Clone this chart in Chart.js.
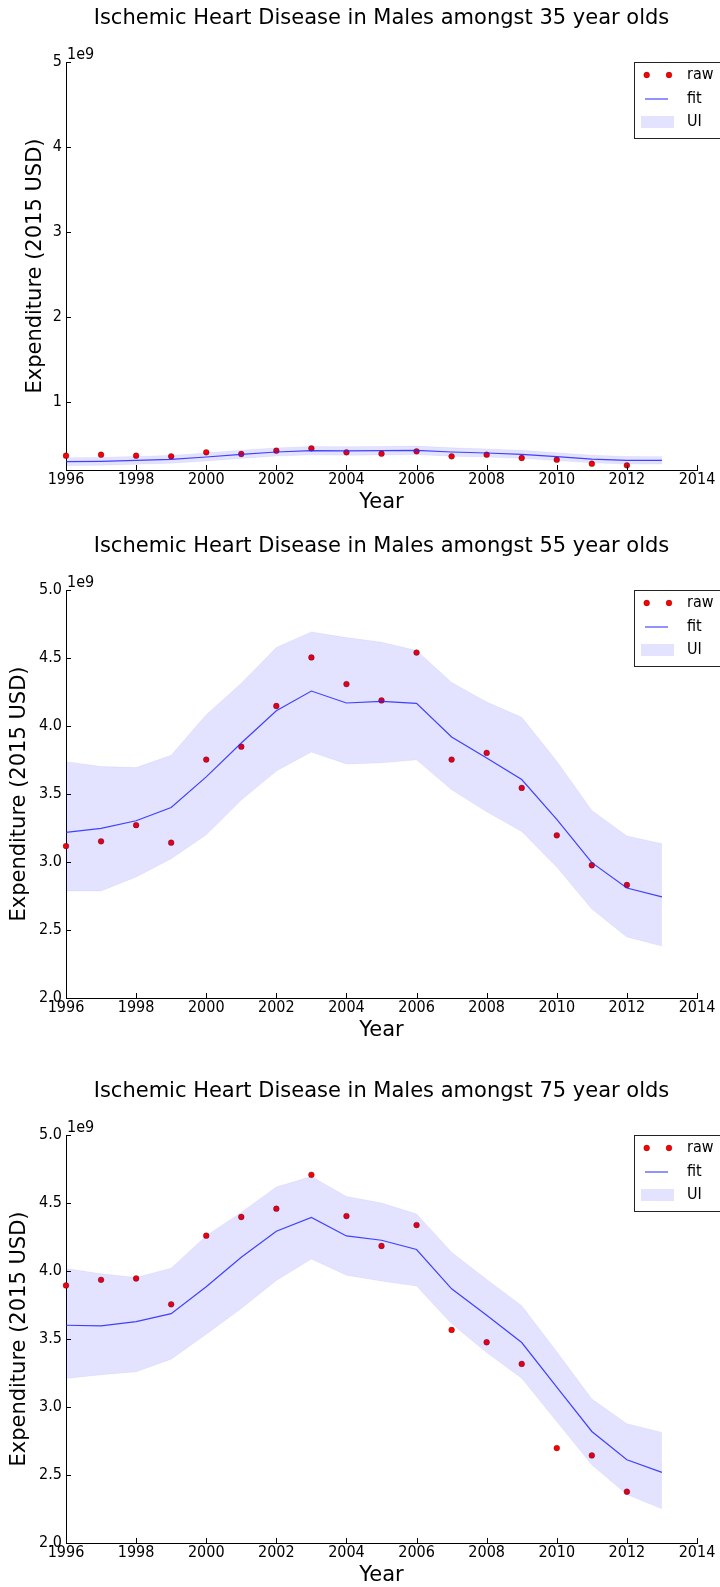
<!DOCTYPE html>
<html>
<head>
<meta charset="utf-8">
<script src="https://cdn.jsdelivr.net/npm/chart.js"></script>
<style>
  html, body { margin: 0; padding: 0; background: #fff; overflow: hidden; }
  body { width: 720px; height: 1587px; position: relative; }
  .panel { position: absolute; left: 0; width: 720px; height: 515px; }
</style>
</head>
<body>
<div class="panel" style="top:0px"><canvas id="chart35"></canvas></div>
<div class="panel" style="top:528px"><canvas id="chart55"></canvas></div>
<div class="panel" style="top:1073px"><canvas id="chart75"></canvas></div>
<script>
// values in units of 1e9 (2015 USD)
const years = [1996, 1997, 1998, 1999, 2000, 2001, 2002, 2003, 2004, 2005, 2006, 2007, 2008, 2009, 2010, 2011, 2012, 2013];
const rawYears = years.slice(0, 17);
const xTicks = [1996, 1998, 2000, 2002, 2004, 2006, 2008, 2010, 2012, 2014];

const raw35 = [0.368, 0.380, 0.368, 0.361, 0.408, 0.388, 0.427, 0.455, 0.408, 0.392, 0.420, 0.361, 0.380, 0.341, 0.321, 0.274, 0.255];
const fit35 = [0.298, 0.302, 0.314, 0.326, 0.353, 0.384, 0.412, 0.427, 0.424, 0.427, 0.431, 0.412, 0.400, 0.384, 0.357, 0.329, 0.314, 0.314];
const upper35 = [0.345, 0.348, 0.360, 0.372, 0.400, 0.432, 0.460, 0.476, 0.474, 0.477, 0.481, 0.461, 0.448, 0.431, 0.403, 0.374, 0.358, 0.357];
const lower35 = [0.252, 0.256, 0.268, 0.280, 0.306, 0.336, 0.364, 0.378, 0.374, 0.377, 0.381, 0.363, 0.352, 0.337, 0.311, 0.284, 0.270, 0.271];
const yTicks35 = [1, 2, 3, 4, 5];

const raw55 = [3.117, 3.152, 3.271, 3.142, 3.753, 3.848, 4.147, 4.504, 4.308, 4.188, 4.540, 3.753, 3.802, 3.545, 3.196, 2.976, 2.831];
const fit55 = [3.218, 3.247, 3.303, 3.401, 3.626, 3.875, 4.112, 4.257, 4.169, 4.181, 4.166, 3.919, 3.765, 3.606, 3.313, 2.995, 2.809, 2.743];
const upper55 = [3.738, 3.702, 3.694, 3.785, 4.083, 4.315, 4.577, 4.692, 4.650, 4.616, 4.555, 4.320, 4.176, 4.064, 3.741, 3.379, 3.191, 3.134];
const lower55 = [2.787, 2.787, 2.890, 3.024, 3.200, 3.455, 3.670, 3.809, 3.721, 3.729, 3.751, 3.531, 3.369, 3.225, 2.963, 2.654, 2.449, 2.382];

const raw75 = [3.894, 3.935, 3.945, 3.755, 4.260, 4.397, 4.458, 4.707, 4.404, 4.184, 4.338, 3.567, 3.476, 3.317, 2.698, 2.644, 2.377];
const fit75 = [3.601, 3.596, 3.628, 3.686, 3.884, 4.101, 4.292, 4.394, 4.258, 4.226, 4.158, 3.869, 3.674, 3.474, 3.146, 2.820, 2.612, 2.519];
const upper75 = [4.018, 3.979, 3.952, 4.021, 4.260, 4.431, 4.617, 4.695, 4.548, 4.500, 4.419, 4.138, 3.938, 3.744, 3.406, 3.058, 2.877, 2.813];
const lower75 = [3.210, 3.237, 3.259, 3.352, 3.535, 3.725, 3.930, 4.089, 3.969, 3.926, 3.889, 3.613, 3.400, 3.212, 2.893, 2.575, 2.357, 2.251];
const yTicksHigh = [2.0, 2.5, 3.0, 3.5, 4.0, 4.5, 5.0];

const FONT = "'DejaVu Sans', sans-serif";
const TICK_FONT = "'DejaVu Sans Condensed', 'DejaVu Sans', sans-serif";
const bandColor = "rgba(0, 0, 255, 0.11)";
const fitColor = "rgba(40, 40, 255, 0.85)";

function pairs(xs, ys) {
  return ys.map((y, i) => ({ x: xs[i], y: y }));
}

// matplotlib-ish bits: inward ticks, 1e9 offset text, legend box inside the axes
const decorPlugin = {
  id: "decor",
  afterDraw(chart) {
    const ctx = chart.ctx;
    const area = chart.chartArea;
    const xs = chart.scales.x;
    const ys = chart.scales.y;
    ctx.save();
    ctx.strokeStyle = "#000";
    ctx.lineWidth = 1;
    ctx.beginPath();
    xs.ticks.forEach((t) => {
      const px = Math.round(xs.getPixelForValue(t.value)) + 0.5;
      ctx.moveTo(px, area.bottom);
      ctx.lineTo(px, area.bottom - 5);
    });
    ys.ticks.forEach((t) => {
      const py = Math.round(ys.getPixelForValue(t.value)) + 0.5;
      ctx.moveTo(area.left, py);
      ctx.lineTo(area.left + 5, py);
    });
    ctx.stroke();

    ctx.fillStyle = "#000";
    ctx.font = "16px " + TICK_FONT;
    ctx.textAlign = "left";
    ctx.textBaseline = "alphabetic";
    ctx.fillText("1e9", area.left + 1, area.top - 3);

    // legend
    const top = area.top;
    ctx.fillStyle = "#fff";
    ctx.fillRect(634, top, 110, 76);
    ctx.strokeStyle = "#222";
    ctx.strokeRect(634.5, top + 0.5, 110, 76);

    [646.7, 669].forEach((cx) => {
      ctx.beginPath();
      ctx.arc(cx, top + 13, 2.9, 0, Math.PI * 2);
      ctx.fillStyle = "#ff0000";
      ctx.fill();
      ctx.lineWidth = 0.5;
      ctx.strokeStyle = "rgba(0,0,0,0.6)";
      ctx.stroke();
    });
    ctx.beginPath();
    ctx.strokeStyle = fitColor;
    ctx.lineWidth = 1.2;
    ctx.moveTo(645, top + 37);
    ctx.lineTo(668, top + 37);
    ctx.stroke();
    ctx.fillStyle = bandColor;
    ctx.fillRect(641, top + 54, 33, 12);

    ctx.fillStyle = "#000";
    ctx.font = "16px " + TICK_FONT;
    ctx.textBaseline = "middle";
    ctx.fillText("raw", 687, top + 13);
    ctx.fillText("fit", 687, top + 37);
    ctx.fillText("UI", 687, top + 60);
    ctx.restore();
  },
};

function makePanel(canvasId, title, raw, fit, upper, lower, yMin, yTicks, decimals, yTitlePad) {
  const config = {
    type: "line",
    data: {
      datasets: [
        {
          label: "UI upper",
          data: pairs(years, upper),
          fill: "+1",
          backgroundColor: bandColor,
          borderColor: "rgba(0,0,255,0.06)",
          borderWidth: 1,
          pointRadius: 0,
        },
        {
          label: "UI lower",
          data: pairs(years, lower),
          fill: false,
          borderColor: "rgba(0,0,255,0.06)",
          borderWidth: 1,
          pointRadius: 0,
        },
        {
          label: "fit",
          data: pairs(years, fit),
          fill: false,
          borderColor: fitColor,
          borderWidth: 1.2,
          pointRadius: 0,
        },
        {
          label: "raw",
          data: pairs(rawYears, raw),
          showLine: false,
          pointRadius: 2.9,
          pointBackgroundColor: "#ff0000",
          pointBorderColor: "rgba(0,0,0,0.6)",
          pointBorderWidth: 0.5,
          clip: false,
        },
      ],
    },
    options: {
      responsive: true,
      maintainAspectRatio: false,
      animation: false,
      layout: { padding: { left: 0, right: 23, top: 0, bottom: 0 } },
      plugins: {
        legend: { display: false },
        tooltip: { enabled: false },
        title: {
          display: true,
          text: title,
          fullSize: false,
          color: "#000",
          font: { family: FONT, size: 21, weight: "normal", lineHeight: 1.2 },
          padding: { top: 6.4, bottom: 30.4 },
        },
      },
      scales: {
        x: {
          type: "linear",
          min: 1996,
          max: 2014,
          afterBuildTicks: (scale) => {
            scale.ticks = xTicks.map((v) => ({ value: v }));
          },
          afterFit: (scale) => {
            scale.height = 45;
          },
          grid: { drawOnChartArea: false, drawTicks: false },
          border: { display: true, color: "#000", width: 1 },
          ticks: {
            color: "#000",
            padding: 0,
            maxRotation: 0,
            autoSkip: false,
            font: { family: TICK_FONT, size: 16 },
            callback: (v) => String(v),
          },
          title: {
            display: true,
            text: "Year",
            color: "#000",
            font: { family: FONT, size: 21, lineHeight: 1.2 },
            padding: { top: 0, bottom: 0 },
          },
        },
        y: {
          type: "linear",
          min: yMin,
          max: 5,
          afterBuildTicks: (scale) => {
            scale.ticks = yTicks.map((v) => ({ value: v }));
          },
          afterFit: (scale) => {
            scale.width = 66;
          },
          grid: { drawOnChartArea: false, drawTicks: false },
          border: { display: true, color: "#000", width: 1 },
          ticks: {
            color: "#000",
            padding: 4,
            font: { family: TICK_FONT, size: 16 },
            callback: (v) => Number(v).toFixed(decimals),
          },
          title: {
            display: true,
            text: "Expenditure (2015 USD)",
            color: "#000",
            font: { family: FONT, size: 21, lineHeight: 1.2 },
            padding: { top: yTitlePad, bottom: 0 },
          },
        },
      },
    },
    plugins: [decorPlugin],
  };
  return new Chart(document.getElementById(canvasId), config);
}

makePanel("chart35", "Ischemic Heart Disease in Males amongst 35 year olds", raw35, fit35, upper35, lower35, 0.2, yTicks35, 0, 23.4);
makePanel("chart55", "Ischemic Heart Disease in Males amongst 55 year olds", raw55, fit55, upper55, lower55, 2.0, yTicksHigh, 1, 7.4);
makePanel("chart75", "Ischemic Heart Disease in Males amongst 75 year olds", raw75, fit75, upper75, lower75, 2.0, yTicksHigh, 1, 7.4);
</script>
</body>
</html>
